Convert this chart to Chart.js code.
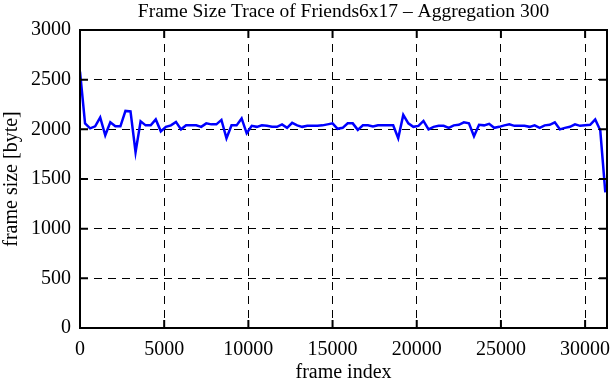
<!DOCTYPE html>
<html>
<head>
<meta charset="utf-8">
<script src="https://cdn.jsdelivr.net/npm/chart.js@4/dist/chart.umd.min.js"></script>
<style>
  html, body { margin: 0; padding: 0; background: #fff; }
  #wrap { width: 611px; height: 380px; }
</style>
</head>
<body>
<div id="wrap"><canvas id="c" width="611" height="380"></canvas></div>
<script>
const chartTitle = "Frame Size Trace of Friends6x17 \u2013 Aggregation 300";
const xTitle = "frame index";
const yTitle = "frame size [byte]";

const frameIndex = [
  0, 300, 600, 900, 1200, 1500, 1800, 2100, 2400, 2700,
  3000, 3300, 3600, 3900, 4200, 4500, 4800, 5100, 5400, 5700,
  6000, 6300, 6600, 6900, 7200, 7500, 7800, 8100, 8400, 8700,
  9000, 9300, 9600, 9900, 10200, 10500, 10800, 11100, 11400, 11700,
  12000, 12300, 12600, 12900, 13200, 13500, 13800, 14100, 14400, 14700,
  15000, 15300, 15600, 15900, 16200, 16500, 16800, 17100, 17400, 17700,
  18000, 18300, 18600, 18900, 19200, 19500, 19800, 20100, 20400, 20700,
  21000, 21300, 21600, 21900, 22200, 22500, 22800, 23100, 23400, 23700,
  24000, 24300, 24600, 24900, 25200, 25500, 25800, 26100, 26400, 26700,
  27000, 27300, 27600, 27900, 28200, 28500, 28800, 29100, 29400, 29700,
  30000, 30300, 30600, 30900, 31200
];

const frameSize = [
  2580, 2060, 2010, 2030, 2120, 1940, 2070, 2030, 2030, 2185,
  2180, 1770, 2080, 2040, 2040, 2100, 1980, 2025, 2040, 2075,
  2000, 2040, 2040, 2040, 2025, 2060, 2050, 2050, 2095, 1910,
  2040, 2040, 2110, 1960, 2035, 2025, 2040, 2035, 2025, 2025,
  2050, 2015, 2065, 2040, 2025, 2035, 2035, 2035, 2040, 2050,
  2060, 2005, 2015, 2060, 2060, 1995, 2040, 2040, 2030, 2040,
  2040, 2040, 2040, 1910, 2145, 2060, 2025, 2035, 2085, 2000,
  2025, 2035, 2035, 2015, 2040, 2045, 2070, 2060, 1930, 2045,
  2040, 2055, 2015, 2025, 2040, 2050, 2035, 2035, 2035, 2025,
  2040, 2015, 2040, 2045, 2070, 2000, 2015, 2025, 2050, 2035,
  2040, 2045, 2100, 1990, 1365
];

const xTicks = [0, 5000, 10000, 15000, 20000, 25000, 30000];
const yTicks = [0, 500, 1000, 1500, 2000, 2500, 3000];
const xMin = 0, xMax = 31300;
const yMin = 0, yMax = 3000;

const FONT = "'Liberation Serif', 'DejaVu Serif', serif";

const framePlugin = {
  id: 'gnuplotFrame',
  afterDraw(chart) {
    const {ctx, chartArea: a, scales: {x, y}} = chart;
    ctx.save();
    ctx.strokeStyle = '#000';
    ctx.lineWidth = 2;
    ctx.setLineDash([]);
    ctx.beginPath();
    const tl = 8;
    xTicks.forEach(v => {
      const px = x.getPixelForValue(v);
      ctx.moveTo(px, a.bottom); ctx.lineTo(px, a.bottom - tl);
      ctx.moveTo(px, a.top); ctx.lineTo(px, a.top + tl);
    });
    yTicks.forEach(v => {
      const py = y.getPixelForValue(v);
      ctx.moveTo(a.left, py); ctx.lineTo(a.left + tl, py);
      ctx.moveTo(a.right, py); ctx.lineTo(a.right - tl, py);
    });
    ctx.stroke();
    ctx.strokeRect(a.left, a.top, a.right - a.left, a.bottom - a.top);
    ctx.restore();
  }
};

new Chart(document.getElementById('c'), {
  type: 'line',
  data: {
    datasets: [{
      data: frameIndex.map((fx, i) => ({x: fx, y: frameSize[i]})),
      borderColor: '#0000ff',
      borderWidth: 2.5,
      pointRadius: 0,
      tension: 0,
      fill: false
    }]
  },
  options: {
    responsive: false,
    animation: false,
    devicePixelRatio: 1,
    layout: { padding: { left: 0, right: 4, top: 0, bottom: 0 } },
    plugins: {
      legend: { display: false },
      tooltip: { enabled: false },
      title: {
        display: true,
        fullSize: false,
        text: chartTitle,
        color: '#000',
        font: { family: FONT, size: 19.5, weight: 'normal', lineHeight: '20px' },
        padding: { top: 2, bottom: 8 }
      }
    },
    scales: {
      x: {
        type: 'linear',
        min: xMin, max: xMax,
        afterBuildTicks(scale) { scale.ticks = xTicks.map(v => ({value: v})); },
        afterFit(scale) {
          scale.height = 52;
          scale.paddingLeft = 0;
          scale.paddingRight = 0;
        },
        ticks: {
          color: '#000', padding: 10, maxRotation: 0, autoSkip: false,
          font: { family: FONT, size: 20 },
          callback: v => String(v)
        },
        grid: { color: '#000', lineWidth: 1, drawTicks: false },
        border: { display: false, dash: [8, 6] },
        title: {
          display: true, text: xTitle, color: '#000',
          font: { family: FONT, size: 20, lineHeight: 1 },
          padding: { top: 0, bottom: -3 }
        }
      },
      y: {
        type: 'linear',
        min: yMin, max: yMax,
        afterBuildTicks(scale) { scale.ticks = yTicks.map(v => ({value: v})); },
        afterFit(scale) { scale.width = 80; },
        ticks: {
          color: '#000', padding: 9, autoSkip: false,
          font: { family: FONT, size: 20 },
          callback: v => String(v)
        },
        grid: { color: '#000', lineWidth: 1, drawTicks: false },
        border: { display: false, dash: [8, 6] },
        title: {
          display: true, text: yTitle, color: '#000',
          font: { family: FONT, size: 20, lineHeight: 1 },
          padding: { top: 2, bottom: 0 }
        }
      }
    }
  },
  plugins: [framePlugin]
});
</script>
</body>
</html>
